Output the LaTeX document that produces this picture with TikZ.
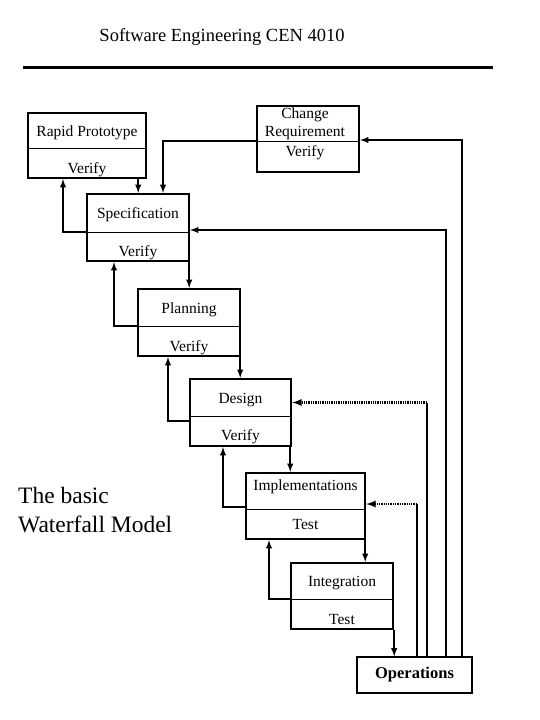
\documentclass[tikz,border=0pt]{standalone}
\usepackage{fontspec}
\setmainfont{Liberation Serif}
\usetikzlibrary{calc, positioning}

\begin{document}
\begin{tikzpicture}[>=latex, x=1pt, y=-1pt,
    stage/.style={draw, line width=2.4pt, inner sep=0pt, minimum width=102pt, minimum height=66pt},
    lbl/.style={inner sep=0pt, font=\fontsize{15.5}{18}\selectfont},
    flow/.style={->, line width=1.8pt},
    back/.style={line width=1.8pt},
    dots/.style={->, line width=2.2pt, dash pattern=on 1.3pt off 1pt},
    divider/.style={line width=0.9pt}]
    \useasboundingbox (0,0) rectangle (540,720);

    % 1. Tiêu đề và đường kẻ
    \node (title) at (222,37) {\fontsize{18.5}{22}\selectfont Software Engineering CEN 4010};
    \draw[line width=3pt] (23,67) -- (493,67);

    % 2. Các khối (giai đoạn)
    \node[stage, minimum width=118pt, minimum height=65pt] (rapid) at (87,145.5) {};
    \node[stage] (change) at (308,139) {};
    \node[stage, minimum height=67pt] (spec) at (138,227.5) {};
    \node[stage, minimum height=67pt] (plan) at (189,322.5) {};
    \node[stage, minimum width=101pt, minimum height=67pt] (design) at (240.5,412.5) {};
    \node[stage, minimum width=119pt] (impl) at (305.5,506) {};
    \node[stage] (integ) at (342,596) {};
    \node[draw, line width=1.2pt, minimum width=115pt, minimum height=36pt,
          font=\fontsize{16.5}{20}\selectfont\bfseries] (ops) at (414.5,675) {Operations};

    % Đường chia trong mỗi khối
    \coordinate (rapid-d) at (28,148);
    \coordinate (change-d) at (257,141);
    \coordinate (spec-d) at (87,232);
    \coordinate (plan-d) at (138,326);
    \coordinate (design-d) at (190,416);
    \coordinate (impl-d) at (246,509);
    \coordinate (integ-d) at (291,599);
    \foreach \b in {rapid, change, spec, plan, design, impl, integ}
        \draw[divider] (\b-d) -- (\b-d -| \b.east);

    % Nhãn trong các khối
    \node[lbl] (rapid-t) at (87,133) {Rapid Prototype};
    \node[lbl] (rapid-v) at (87,170) {Verify};
    \node[lbl] (change-t1) at (305,115) {Change};
    \node[lbl] (change-t2) at (305,133) {Requirement};
    \node[lbl] (change-v) at (305,153) {Verify};
    \node[lbl] (spec-t) at (138,214.5) {Specification};
    \node[lbl] (spec-v) at (138,252.5) {Verify};
    \node[lbl] (plan-t) at (189,309.5) {Planning};
    \node[lbl] (plan-v) at (189,348) {Verify};
    \node[lbl] (design-t) at (240.5,400) {Design};
    \node[lbl] (design-v) at (240.5,437) {Verify};
    \node[lbl] (impl-t) at (305.5,487) {Implementations};
    \node[lbl] (impl-v) at (305.5,524) {Test};
    \node[lbl] (integ-t) at (342,583) {Integration};
    \node[lbl] (integ-v) at (342,619) {Test};

    % 3. Mũi tên đi xuống (thác nước)
    \draw[flow] ([xshift=-9pt]rapid.south east) -- ([xshift=-9pt]rapid.south east |- spec.north);
    \draw[flow] ([xshift=-1pt]spec.south east) -- ([xshift=-1pt]spec.south east |- plan.north);
    \draw[flow] ([xshift=-1pt]plan.south east) -- ([xshift=-1pt]plan.south east |- design.north);
    \draw[flow] ([xshift=-2pt]design.south east) -- ([xshift=-2pt]design.south east |- impl.north);
    \draw[flow] ([xshift=-1pt]impl.south east) -- ([xshift=-1pt]impl.south east |- integ.north);
    \draw[flow] (integ.south east) -- (integ.south east |- ops.north);

    % Mũi tên quay lại (Verify / Test)
    \draw[flow] (change-d) -| ([xshift=25pt]spec.north);
    \draw[flow] (spec-d) -| ([xshift=-24pt]rapid.south);
    \draw[flow] (plan-d) -| ([xshift=-24pt]spec.south);
    \draw[flow] ([yshift=-5pt]design-d) -| ([xshift=-21pt]plan.south);
    \draw[flow] ([yshift=2pt]impl-d) -| ([xshift=-17.5pt]design.south);
    \draw[flow] (integ-d) -| ([xshift=-36.5pt]impl.south);

    % 4. Phản hồi từ Operations
    \coordinate (fb-impl) at ([xshift=2.5pt]ops.north |- impl.east);
    \coordinate (fb-design) at ([xshift=12.5pt]ops.north |- design.east);
    \draw[back] (ops.north -| fb-impl) -- ([yshift=2pt]fb-impl);
    \draw[dots] ([yshift=2pt]fb-impl) -- ([yshift=2pt]impl.east);
    \draw[back] (ops.north -| fb-design) -- ([yshift=10pt]fb-design);
    \draw[dots] ([yshift=10pt]fb-design) -- ([yshift=10pt]design.east);
    \draw[flow] ([xshift=31.5pt]ops.north) |- ([yshift=-2.5pt]spec.east);
    \draw[flow] ([xshift=47.5pt]ops.north) |- ([yshift=-1pt]change.east);

    % 5. Chú thích
    \node[anchor=north west, inner sep=0pt, align=left,
          font=\fontsize{23.5}{29}\selectfont] (caption) at (18,487) {The basic\\Waterfall Model};
\end{tikzpicture}
\end{document}
